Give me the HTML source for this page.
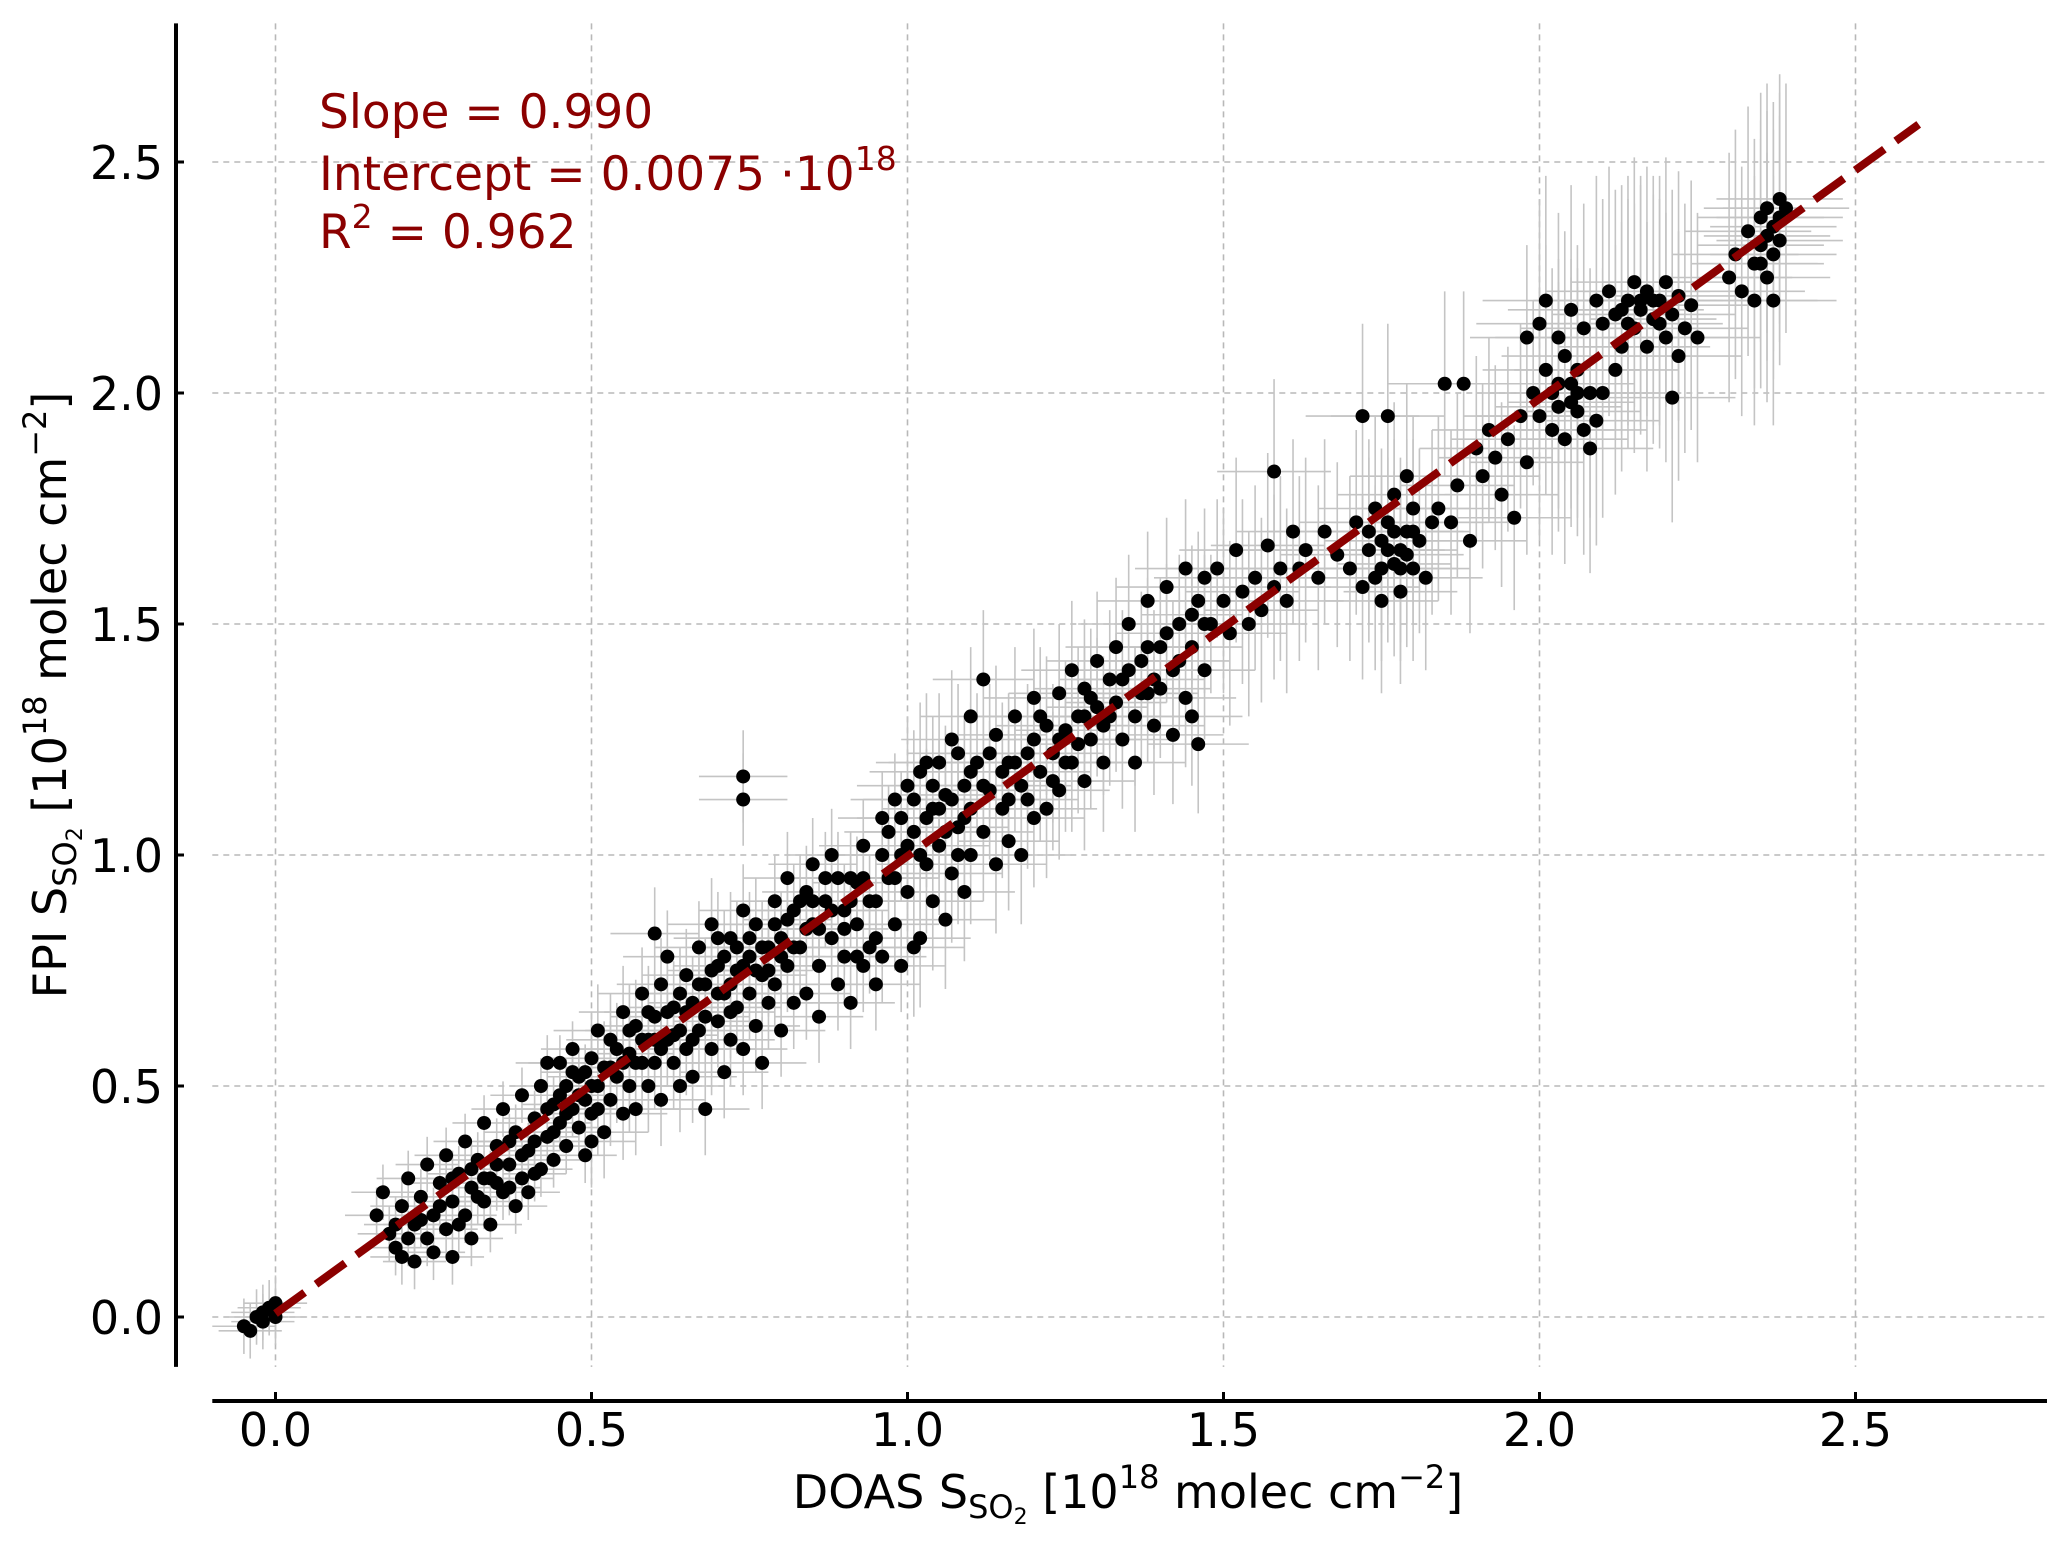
<!DOCTYPE html>
<html><head><meta charset="utf-8"><style>html,body{margin:0;padding:0;background:#fff}svg{display:block}text{font-family:"DejaVu Sans","Liberation Sans",sans-serif}</style></head>
<body>
<svg id="chart" width="2067" height="1543" viewBox="0 0 2067 1543" xmlns="http://www.w3.org/2000/svg">
<g id="grid"></g>
<g id="errs"></g>
<g id="pts"></g>
<g id="fit"></g>
<g id="axes"></g>
<g fill="#8b0000" font-size="47">
<text x="319" y="128">Slope = 0.990</text>
<text x="319" y="190">Intercept = 0.0075 ·10<tspan font-size="33" dy="-20">18</tspan></text>
<text x="319" y="248">R<tspan font-size="33" dy="-20">2</tspan><tspan dy="20"> = 0.962</tspan></text>
</g>
<text x="1128" y="1508" font-size="46" text-anchor="middle">DOAS S<tspan font-size="32" dy="10">SO</tspan><tspan font-size="22" dy="6">2</tspan><tspan dy="-16"> [10</tspan><tspan font-size="32" dy="-20">18</tspan><tspan dy="20"> molec cm</tspan><tspan font-size="32" dy="-20">−2</tspan><tspan dy="20">]</tspan></text>
<text transform="translate(66,695) rotate(-90)" font-size="46" text-anchor="middle">FPI S<tspan font-size="32" dy="10">SO</tspan><tspan font-size="22" dy="6">2</tspan><tspan dy="-16"> [10</tspan><tspan font-size="32" dy="-20">18</tspan><tspan dy="20"> molec cm</tspan><tspan font-size="32" dy="-20">−2</tspan><tspan dy="20">]</tspan></text>
</svg>
<script>
const xTicks=[0,0.5,1.0,1.5,2.0,2.5];
const yTicks=[0,0.5,1.0,1.5,2.0,2.5];
const xTickLabels=["0.0","0.5","1.0","1.5","2.0","2.5"];
const yTickLabels=["0.0","0.5","1.0","1.5","2.0","2.5"];
const fitSlope=0.990, fitIntercept=0.0075, fitXRange=[0,2.6];
const errBandEdges=[-0.1,0.5,1.0,1.5,2.0,2.8];
const errXBand=[0.05,0.07,0.08,0.09,0.1];
const errYBand=[0.06,0.1,0.15,0.2,0.27];
const doasX=[-0.05,-0.04,-0.03,-0.02,-0.01,0.0,-0.02,0.0,
0.16,0.17,0.18,0.19,0.2,0.2,0.21,0.22,0.22,0.23,0.24,0.24,0.25,0.25,0.26,0.27,0.27,0.28,0.28,0.29,
0.3,0.3,0.31,0.31,0.32,0.33,0.33,0.34,0.34,0.35,0.36,0.36,0.37,0.38,0.38,0.39,0.39,0.4,0.4,0.41,
0.42,0.42,0.43,0.44,0.44,0.45,0.45,0.46,0.46,0.47,0.47,0.48,0.48,0.49,0.49,0.5,0.5,0.51,0.51,0.52,0.52,0.43,0.5,0.47,
0.53,0.53,0.54,0.55,0.55,0.56,0.56,0.57,0.57,0.58,0.58,0.59,0.59,0.6,0.6,0.61,0.61,0.62,0.62,0.63,0.63,0.64,0.64,0.65,0.65,0.6,
0.66,0.66,0.67,0.67,0.68,0.68,0.69,0.69,0.7,0.7,0.71,0.71,0.72,0.72,0.73,0.73,0.74,0.74,0.75,0.75,0.76,0.76,0.77,0.77,0.78,0.78,0.74,0.74,
0.79,0.79,0.8,0.8,0.81,0.81,0.82,0.82,0.83,0.84,0.84,0.85,0.85,0.86,0.86,0.87,0.88,0.88,0.89,0.9,0.9,0.91,0.91,0.92,0.93,0.93,0.94,0.95,0.95,0.92,
0.96,0.96,0.97,0.98,0.98,0.99,0.99,1.0,1.0,1.01,1.02,1.02,1.03,1.04,1.04,1.05,1.05,1.06,1.06,1.07,1.08,1.08,1.09,1.09,1.1,1.1,1.1,1.01,1.07,1.03,
1.11,1.12,1.12,1.13,1.14,1.14,1.15,1.16,1.16,1.17,1.18,1.18,1.19,1.2,1.2,1.21,1.22,1.22,1.23,1.24,1.24,1.25,1.26,1.26,1.27,1.28,1.28,1.29,1.3,1.3,
1.31,1.32,1.33,1.34,1.34,1.35,1.36,1.36,1.37,1.38,1.38,1.39,1.4,1.4,1.41,1.42,1.42,1.43,1.44,1.44,1.45,1.45,1.46,1.47,1.47,1.46,
1.48,1.49,1.5,1.51,1.52,1.53,1.54,1.55,1.56,1.57,1.58,1.58,1.59,1.6,1.61,1.62,1.63,1.65,1.66,1.68,
1.7,1.71,1.72,1.73,1.74,1.74,1.75,1.75,1.76,1.77,1.77,1.78,1.78,1.79,1.8,1.8,1.81,1.82,1.83,1.72,1.76,1.79,
1.84,1.85,1.86,1.87,1.88,1.89,1.9,1.91,1.92,1.93,1.94,1.95,1.96,1.97,1.98,1.99,
2.0,2.01,2.02,2.02,2.03,2.04,2.04,2.05,2.06,2.06,2.07,2.08,2.09,2.0,2.01,2.03,2.05,2.07,1.98,2.09,2.1,2.08,
2.1,2.11,2.12,2.13,2.14,2.15,2.15,2.16,2.17,2.17,2.18,2.19,2.2,2.2,2.21,2.22,2.22,2.23,2.24,2.25,2.21,2.12,
2.3,2.31,2.32,2.33,2.34,2.34,2.35,2.35,2.36,2.36,2.37,2.37,2.38,2.38,2.39,2.37,
0.19,0.21,0.23,0.26,0.28,0.29,0.31,0.32,0.33,0.35,0.35,0.37,0.37,0.39,0.41,0.41,0.43,0.44,0.45,0.46,0.48,0.49,0.5,0.51,
0.53,0.54,0.55,0.56,0.57,0.58,0.59,0.6,0.61,0.62,0.63,0.64,0.65,0.66,0.67,0.68,0.69,0.7,0.71,0.72,0.73,0.74,0.75,0.76,0.77,0.78,0.79,0.8,0.7,0.72,
0.81,0.82,0.83,0.84,0.85,0.86,0.87,0.88,0.89,0.9,0.91,0.92,0.93,0.94,0.95,0.96,0.97,0.98,0.99,1.0,1.01,1.02,1.03,1.04,1.05,1.06,1.07,1.08,1.09,1.1,
1.12,1.13,1.15,1.16,1.17,1.19,1.2,1.21,1.23,1.24,1.25,1.27,1.28,1.29,1.31,1.32,1.33,1.35,1.37,1.38,1.39,1.41,1.43,1.45,1.47,
1.73,1.75,1.76,1.77,1.78,1.79,1.8,2.03,2.05,2.06,2.13,2.14,2.16,2.18,2.19,2.35,2.36,2.38];
const fpiY=[-0.02,-0.03,0.0,0.01,0.02,0.03,-0.01,0.0,
0.22,0.27,0.18,0.15,0.24,0.13,0.3,0.2,0.12,0.26,0.17,0.33,0.22,0.14,0.29,0.19,0.35,0.25,0.13,0.31,
0.22,0.38,0.28,0.17,0.34,0.25,0.42,0.3,0.2,0.37,0.27,0.45,0.33,0.24,0.4,0.3,0.48,0.36,0.27,0.43,
0.32,0.5,0.39,0.46,0.34,0.55,0.42,0.5,0.37,0.45,0.58,0.41,0.52,0.47,0.35,0.56,0.44,0.5,0.62,0.4,0.54,0.55,0.38,0.53,
0.47,0.6,0.52,0.66,0.44,0.57,0.5,0.63,0.45,0.55,0.7,0.6,0.5,0.65,0.55,0.72,0.47,0.6,0.78,0.55,0.67,0.5,0.62,0.74,0.58,0.83,
0.68,0.52,0.8,0.62,0.72,0.45,0.58,0.85,0.76,0.64,0.7,0.53,0.82,0.6,0.75,0.67,0.88,0.58,0.78,0.7,0.63,0.85,0.74,0.55,0.8,0.68,1.17,1.12,
0.9,0.72,0.82,0.62,0.95,0.76,0.68,0.88,0.8,0.92,0.7,0.85,0.98,0.76,0.65,0.9,0.82,1.0,0.72,0.88,0.78,0.95,0.68,0.85,1.02,0.76,0.9,0.82,0.72,0.94,
1.08,0.78,0.95,1.12,0.85,1.0,0.76,1.15,0.92,1.05,0.82,1.18,0.98,1.1,0.9,1.2,1.02,0.86,1.13,0.96,1.22,1.06,0.92,1.15,1.0,1.3,1.1,0.8,1.25,1.2,
1.2,1.05,1.38,1.14,0.98,1.26,1.1,1.2,1.03,1.3,1.15,1.0,1.22,1.08,1.34,1.18,1.28,1.1,1.22,1.35,1.14,1.27,1.2,1.4,1.3,1.16,1.36,1.25,1.32,1.42,
1.2,1.3,1.45,1.25,1.38,1.5,1.3,1.2,1.42,1.35,1.55,1.28,1.45,1.36,1.58,1.4,1.26,1.5,1.34,1.62,1.45,1.3,1.55,1.4,1.6,1.24,
1.5,1.62,1.55,1.48,1.66,1.57,1.5,1.6,1.53,1.67,1.58,1.83,1.62,1.55,1.7,1.62,1.66,1.6,1.7,1.65,
1.62,1.72,1.58,1.66,1.75,1.6,1.68,1.55,1.72,1.63,1.78,1.66,1.57,1.7,1.62,1.75,1.68,1.6,1.72,1.95,1.95,1.82,
1.75,2.02,1.72,1.8,2.02,1.68,1.88,1.82,1.92,1.86,1.78,1.9,1.73,1.95,1.85,2.0,
1.95,2.05,1.92,2.0,1.97,2.08,1.9,2.02,1.96,2.05,1.92,2.0,1.94,2.15,2.2,2.12,2.18,2.14,2.12,2.2,2.0,1.88,
2.15,2.22,2.17,2.1,2.2,2.14,2.24,2.18,2.1,2.22,2.16,2.2,2.12,2.24,2.17,2.08,2.21,2.14,2.19,2.12,1.99,2.05,
2.25,2.3,2.22,2.35,2.28,2.2,2.38,2.32,2.25,2.4,2.3,2.36,2.42,2.33,2.4,2.2,
0.2,0.17,0.21,0.24,0.3,0.2,0.32,0.26,0.3,0.29,0.33,0.38,0.28,0.35,0.38,0.31,0.45,0.4,0.48,0.44,0.48,0.53,0.5,0.45,
0.54,0.58,0.55,0.62,0.55,0.6,0.66,0.6,0.58,0.66,0.61,0.7,0.66,0.6,0.72,0.65,0.75,0.7,0.78,0.72,0.8,0.76,0.82,0.75,0.8,0.75,0.85,0.78,0.82,0.66,
0.86,0.8,0.9,0.84,0.9,0.84,0.95,0.88,0.95,0.84,0.9,0.78,0.95,0.8,0.9,1.0,1.05,0.95,1.08,1.02,1.12,1.0,1.08,1.15,1.1,1.05,1.12,1.0,1.08,1.18,
1.15,1.22,1.18,1.12,1.2,1.12,1.25,1.3,1.16,1.25,1.2,1.24,1.3,1.34,1.28,1.38,1.33,1.4,1.35,1.45,1.38,1.48,1.42,1.52,1.5,
1.7,1.62,1.66,1.7,1.62,1.65,1.7,2.02,1.98,2.0,2.18,2.15,2.2,2.2,2.15,2.28,2.34,2.38];

const NS="http://www.w3.org/2000/svg";
const X0=275.5, XS=632, Y0=1317, YS=462;
function sx(v){return X0+v*XS;}
function sy(v){return Y0-v*YS;}
const plotL=sx(-0.1), plotR=sx(2.803), plotT=sy(2.8), plotB=sy(-0.108);
function mk(parent,tag,attrs){const e=document.createElementNS(NS,tag);for(const k in attrs)e.setAttribute(k,attrs[k]);parent.appendChild(e);return e;}
function band(x){for(let i=0;i<errXBand.length;i++){if(x<errBandEdges[i+1])return i;}return errXBand.length-1;}

const grid=document.getElementById('grid');
xTicks.forEach(function(t){
  const l=mk(grid,'line',{x1:sx(t),x2:sx(t),y1:plotT,y2:plotB,stroke:'#b8b8b8','stroke-width':1.6,'stroke-dasharray':'6,5'});
  
  
});
yTicks.forEach(function(t){
  const l=mk(grid,'line',{x1:plotL,x2:plotR,y1:sy(t),y2:sy(t),stroke:'#b8b8b8','stroke-width':1.6,'stroke-dasharray':'6,5'});
  
  
});

const errs=document.getElementById('errs');
const pts=document.getElementById('pts');
for(let i=0;i<doasX.length;i++){
  const x=doasX[i], y=fpiY[i], b=band(x);
  const ex=errXBand[b], ey=errYBand[b];
  const v=mk(errs,'line',{x1:sx(x),x2:sx(x),y1:sy(y-ey),y2:sy(y+ey),stroke:'#c4c4c4','stroke-width':1.6});
  
  
  const h=mk(errs,'line',{x1:sx(x-ex),x2:sx(x+ex),y1:sy(y),y2:sy(y),stroke:'#c4c4c4','stroke-width':1.6});
  
  
}
for(let i=0;i<doasX.length;i++){
  const c=mk(pts,'circle',{cx:sx(doasX[i]),cy:sy(fpiY[i]),r:7,fill:'#000'});
  
  
}

const fit=document.getElementById('fit');
const fl=mk(fit,'line',{x1:sx(fitXRange[0]),y1:sy(fitIntercept+fitSlope*fitXRange[0]),x2:sx(fitXRange[1]),y2:sy(fitIntercept+fitSlope*fitXRange[1]),stroke:'#8b0000','stroke-width':8,'stroke-dasharray':'36,14'});



const axes=document.getElementById('axes');
const ys=mk(axes,'line',{x1:176,x2:176,y1:plotT,y2:plotB,stroke:'#000','stroke-width':4});


const xsp=mk(axes,'line',{x1:plotL,x2:plotR,y1:1401,y2:1401,stroke:'#000','stroke-width':4});


xTicks.forEach(function(t,i){
  const tk=mk(axes,'line',{x1:sx(t),x2:sx(t),y1:1392,y2:1401,stroke:'#000','stroke-width':3});
  
  
  const tx=mk(axes,'text',{x:sx(t),y:1446,'font-size':46,'text-anchor':'middle'});
  tx.textContent=xTickLabels[i];
  
  
});
yTicks.forEach(function(t,i){
  const tk=mk(axes,'line',{x1:176,x2:184,y1:sy(t),y2:sy(t),stroke:'#000','stroke-width':3});
  
  
  const tx=mk(axes,'text',{x:163,y:sy(t)+17,'font-size':46,'text-anchor':'end'});
  tx.textContent=yTickLabels[i];
  
  
});
</script>
</body></html>
